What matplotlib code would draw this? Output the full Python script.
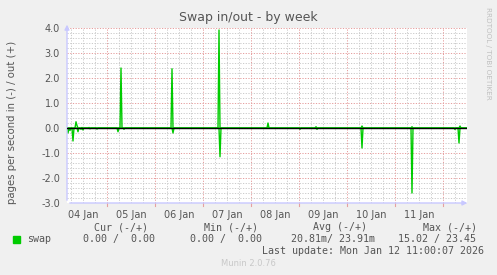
import numpy as np
import matplotlib
matplotlib.use("Agg")
import matplotlib.pyplot as plt

# hours since 04 Jan 00:00, graph covers 04 Jan 04:00 .. 12 Jan 12:00
t_start, t_end = 4.0, 204.0

# out (+) spikes
out_hours = [8.5, 9.0, 11.5, 15.0, 31.0, 56.5, 80.0, 104.5, 128.5, 151.5, 176.5, 200.5]
out_vals = [0.25, 0.10, 0.02, 0.02, 2.40, 2.37, 3.92, 0.20, 0.05, 0.08, 0.05, 0.08]

# in (-) spikes
in_hours = [4.5, 5.5, 7.0, 9.5, 11.0, 12.0, 15.5, 19.0, 29.5, 32.5, 57.0,
            80.5, 120.5, 129.0, 151.5, 176.5, 198.0, 200.0]
in_vals = [0.20, 0.10, 0.52, 0.15, 0.05, 0.08, 0.03, 0.04, 0.15, 0.05, 0.20,
           1.15, 0.05, 0.05, 0.80, 2.60, 0.06, 0.60]

day_labels = ["04 Jan", "05 Jan", "06 Jan", "07 Jan", "08 Jan", "09 Jan", "10 Jan", "11 Jan"]

# 30 minute samples
t = np.arange(t_start, t_end + 0.5, 0.5)
out_s = np.zeros_like(t)
in_s = np.zeros_like(t)
for h, v in zip(out_hours, out_vals):
    out_s[np.argmin(np.abs(t - h))] = v
for h, v in zip(in_hours, in_vals):
    in_s[np.argmin(np.abs(t - h))] = -v

W, H = 497, 275
fig = plt.figure(figsize=(W / 100, H / 100), dpi=100, facecolor="#f0f0f0")
ax = fig.add_axes([67 / W, (H - 203) / H, 400 / W, 175 / H])
ax.set_facecolor("white")
ax.set_xlim(t_start, t_end)
ax.set_ylim(-3.0, 4.0)

# grid like rrdtool
minor_c = "#cccccc"
major_c = "#e6a0a0"
dots = (0, (1.2, 1.5))
for y in np.arange(-3.0, 4.01, 0.2):
    if abs(y - round(y)) > 1e-6:
        ax.axhline(y, color=minor_c, lw=0.72, ls=dots, zorder=1)
for x in np.arange(6, t_end, 6):
    if x % 24:
        ax.axvline(x, color=minor_c, lw=0.72, ls=dots, zorder=1)
for y in np.arange(-3, 5, 1):
    ax.axhline(y, color=major_c, lw=0.72, ls=dots, zorder=1)
for x in np.arange(24, t_end, 24):
    ax.axvline(x, color=major_c, lw=0.72, ls=dots, zorder=1)
    ax.plot([x, x], [-3.0, -3.12], color=major_c, lw=0.8, clip_on=False)

ax.plot(t, out_s, color="#00cc00", lw=1.0, zorder=3)
ax.plot(t, in_s, color="#00cc00", lw=1.0, zorder=3)
ax.axhline(0, color="black", lw=1.0, zorder=4)

for s in ax.spines.values():
    s.set_visible(False)
# axis lines with arrows
axis_c = "#c8c8ff"
ax.annotate("", xy=(1.008, 0), xytext=(0, 0), xycoords="axes fraction",
            arrowprops=dict(arrowstyle="-|>", color=axis_c, lw=1, mutation_scale=7),
            annotation_clip=False)
ax.annotate("", xy=(0, 1.035), xytext=(0, 0), xycoords="axes fraction",
            arrowprops=dict(arrowstyle="-|>", color=axis_c, lw=1, mutation_scale=7),
            annotation_clip=False)

ax.set_yticks(np.arange(-3, 5, 1))
ax.set_yticklabels([f"{v:.1f}" for v in np.arange(-3, 5, 1)])
ax.set_xticks(np.arange(12, 12 + 24 * len(day_labels), 24))
ax.set_xticklabels(day_labels)
ax.tick_params(length=0, labelsize=7, colors="#555555")
ax.tick_params(axis="y", pad=5)
ax.tick_params(axis="x", pad=5)

fig.text(248 / W, 1 - 18 / H, "Swap in/out - by week", ha="center", va="center",
         fontsize=9, color="#555555")
fig.text(12 / W, 1 - 122 / H, "pages per second in (-) / out (+)", rotation=90,
         ha="center", va="center", fontsize=7.3, color="#555555")
fig.text(488 / W, 1 - 53 / H, "RRDTOOL / TOBI OETIKER", rotation=270,
         ha="center", va="center", fontsize=5.2, color="#c0c0c0")

mono = dict(family="DejaVu Sans Mono", fontsize=7.2, color="#555555", va="center")
fig.patches.append(plt.Rectangle((13 / W, 1 - 243 / H), 7 / W, 7 / H,
                                 transform=fig.transFigure, color="#00cc00"))
fig.text(27 / W, 1 - 239 / H, "swap", ha="left", **mono)
fig.text(94 / W, 1 - 227 / H, "Cur (-/+)", ha="left", **mono)
fig.text(83 / W, 1 - 239 / H, "0.00 /  0.00", ha="left", **mono)
fig.text(204 / W, 1 - 227 / H, "Min (-/+)", ha="left", **mono)
fig.text(190 / W, 1 - 239 / H, "0.00 /  0.00", ha="left", **mono)
fig.text(313 / W, 1 - 227 / H, "Avg (-/+)", ha="left", **mono)
fig.text(291 / W, 1 - 239 / H, "20.81m/ 23.91m", ha="left", **mono)
fig.text(423 / W, 1 - 227 / H, "Max (-/+)", ha="left", **mono)
fig.text(398 / W, 1 - 239 / H, "15.02 / 23.45", ha="left", **mono)
fig.text(262 / W, 1 - 251 / H, "Last update: Mon Jan 12 11:00:07 2026", ha="left", **mono)
fig.text(248 / W, 1 - 264 / H, "Munin 2.0.76", ha="center", va="center",
         fontsize=6, color="#c8c8c8")

fig.savefig("out.png", dpi=100, facecolor=fig.get_facecolor())
